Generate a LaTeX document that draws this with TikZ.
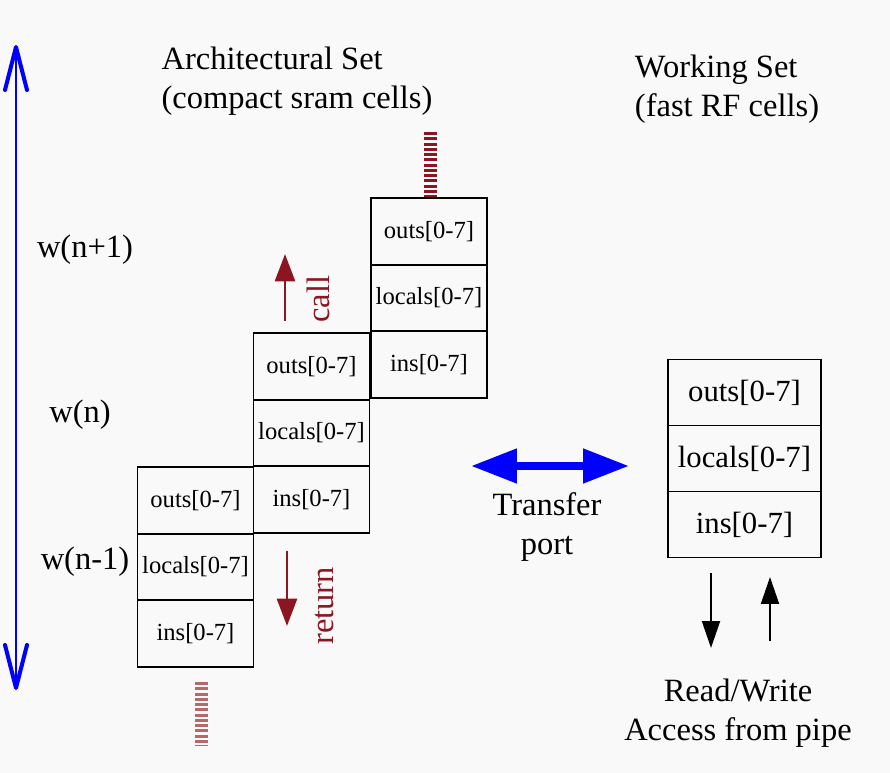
\documentclass[tikz,border=0pt]{standalone}
\usepackage{fontspec}
\setmainfont{Liberation Serif}
\usetikzlibrary{positioning,arrows.meta}

\definecolor{paper}{RGB}{249,249,249}
\definecolor{callred}{RGB}{139,21,32}
\definecolor{barpink}{RGB}{184,104,104}

\begin{document}
\begin{tikzpicture}[x=0.02cm, y=-0.02cm,
        reg/.style={rectangle, draw, line width=1.1pt, outer sep=0pt, minimum width=2.32cm, minimum height=1.33cm, inner sep=0.5pt, font=\fontsize{14}{17}\selectfont},
        wreg/.style={reg, minimum width=3.06cm, minimum height=1.32cm, font=\fontsize{17.5}{21}\selectfont},
        txt/.style={font=\fontsize{18.5}{22}\selectfont},
        stripebar/.style={line width=7.4pt, dash pattern=on 1.7pt off 1.3pt},
        flow/.style={callred, line width=1.7pt, -{Triangle[length=0.55cm, width=0.4cm]}},
        pipe/.style={line width=1.1pt, -{Triangle[length=0.54cm, width=0.36cm]}}
    ]
        \fill[paper] (0,0) rectangle (890,773);
        \useasboundingbox (0,0) rectangle (890,773);

        % window stack of the architectural set
        \node[reg] (w1-outs) at (195.5,500.5) {outs[0-7]};
        \node[reg, below=0pt of w1-outs] (w1-locals) {locals[0-7]};
        \node[reg, below=0pt of w1-locals] (w1-ins) {ins[0-7]};

        \node[reg] (w2-outs) at (311.5,366.5) {outs[0-7]};
        \node[reg, below=0pt of w2-outs] (w2-locals) {locals[0-7]};
        \node[reg, below=0pt of w2-locals] (w2-ins) {ins[0-7]};

        \node[reg] (w3-outs) at (429,231.5) {outs[0-7]};
        \node[reg, below=0pt of w3-outs] (w3-locals) {locals[0-7]};
        \node[reg, below=0pt of w3-locals] (w3-ins) {ins[0-7]};

        % working set
        \node[wreg] (ws-outs) at (744.5,392.5) {outs[0-7]};
        \node[wreg, below=0pt of ws-outs] (ws-locals) {locals[0-7]};
        \node[wreg, below=0pt of ws-locals] (ws-ins) {ins[0-7]};

        % titles
        \node[txt, align=left] (arch) at (297,81) {Architectural Set\\(compact sram cells)};
        \node[txt, align=left] (work) at (727,89) {Working Set\\(fast RF cells)};

        \node[txt] (wn1) at (85,250) {w(n+1)};
        \node[txt] (wn) at (80,415) {w(n)};
        \node[txt] (wn0) at (85,562) {w(n-1)};

        % window axis
        \coordinate (ax-top) at (16,45);
        \coordinate (ax-bot) at (16,690);
        \draw[blue, line width=0.6pt, {Straight Barb[length=0.86cm, width=0.44cm, line width=2.3pt, round]}-{Straight Barb[length=0.86cm, width=0.44cm, line width=2.3pt, round]}] (ax-top) -- (ax-bot);

        % more windows above and below
        \coordinate (bar-a) at (430.5,132);
        \coordinate (bar-b) at (430.5,197);
        \coordinate (bar-c) at (201,682);
        \coordinate (bar-d) at (201,746);
        \draw[stripebar, callred] (bar-a) -- (bar-b);
        \draw[stripebar, barpink] (bar-c) -- (bar-d);

        % call / return
        \coordinate (call-a) at (285,321);
        \coordinate (call-b) at (285,254);
        \draw[flow] (call-a) -- (call-b);
        \node[txt, callred, rotate=90] (call) at (318,299) {call};

        \coordinate (ret-a) at (287,551);
        \coordinate (ret-b) at (287,626);
        \draw[flow] (ret-a) -- (ret-b);
        \node[txt, callred, rotate=90] (ret) at (325,606) {return};

        % transfer port
        \coordinate (tp-l) at (471,466);
        \coordinate (tp-r) at (629,466);
        \draw[blue, line width=4.5pt, {Triangle[length=0.92cm, width=0.66cm]}-{Triangle[length=0.92cm, width=0.66cm]}] (tp-l) -- (tp-r);
        \node[txt, align=center] (tport) at (547,527) {Transfer\\port};

        % pipe access
        \coordinate (rd-a) at (711,573);
        \coordinate (rd-b) at (711,648);
        \coordinate (wr-a) at (770,641);
        \coordinate (wr-b) at (770,577);
        \draw[pipe] (rd-a) -- (rd-b);
        \draw[pipe] (wr-a) -- (wr-b);
        \node[txt, align=center] (rw) at (738,713) {Read/Write\\Access from pipe};
    \end{tikzpicture}
\end{document}
